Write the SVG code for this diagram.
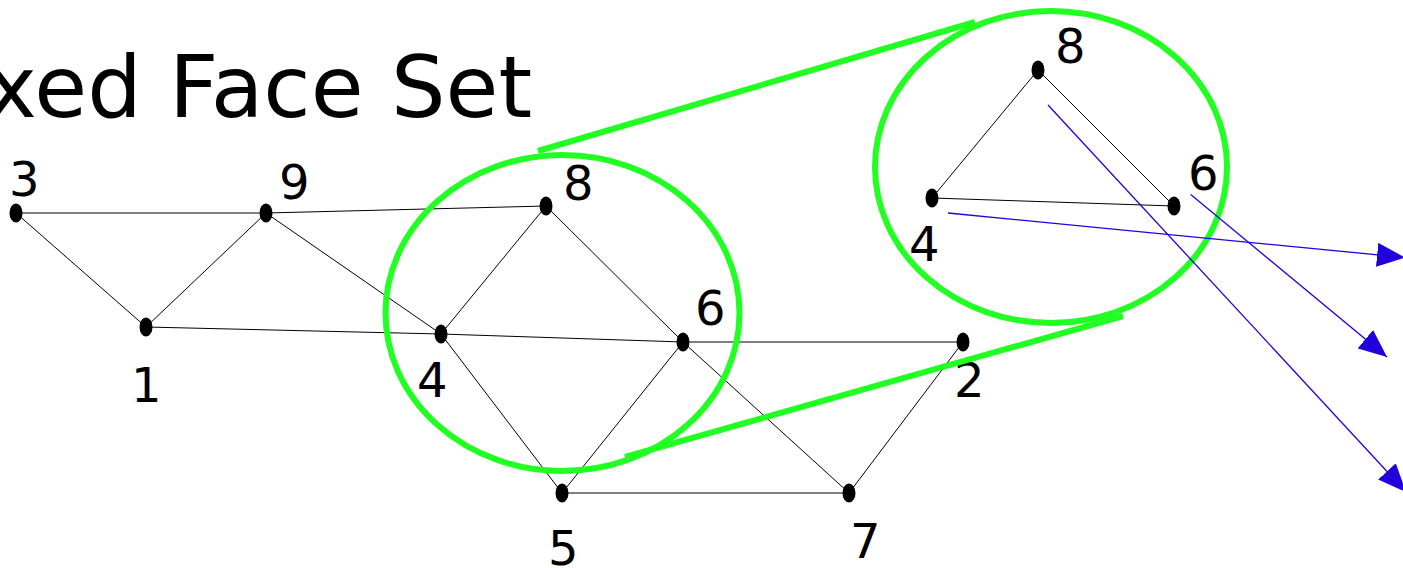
<svg xmlns="http://www.w3.org/2000/svg" width="1403" height="568" viewBox="0 0 1403 568">
<style>
.edge{stroke:#000;stroke-width:1;fill:none}
.dot{fill:#000}
.lbl{font-family:"DejaVu Sans",sans-serif;font-size:48px;fill:#000}
.title{font-family:"DejaVu Sans",sans-serif;font-size:86px;fill:#000}
.green{stroke:#22ff22;stroke-width:6;fill:none}
.blue{stroke:#2200dd;stroke-width:1.3;fill:none;marker-end:url(#ah)}
</style>
<defs>
<marker id="ah" viewBox="0 0 28 24" refX="28" refY="12" markerWidth="28" markerHeight="24" markerUnits="userSpaceOnUse" orient="auto">
<path d="M0,0 L28,12 L0,24 z" fill="#2200dd"/>
</marker>
</defs>
<rect width="1403" height="568" fill="#fff"/>
<text class="title" x="-14" y="117">xed Face Set</text>
<g id="connectors">
<line class="edge" x1="16" y1="213" x2="266" y2="213"/>
<line class="edge" x1="16" y1="213" x2="146" y2="327"/>
<line class="edge" x1="146" y1="327" x2="266" y2="213"/>
<line class="edge" x1="266" y1="213" x2="441" y2="334"/>
<line class="edge" x1="266" y1="213" x2="546" y2="206"/>
<line class="edge" x1="146" y1="327" x2="441" y2="334"/>
<line class="edge" x1="546" y1="206" x2="441" y2="334"/>
<line class="edge" x1="546" y1="206" x2="683" y2="342"/>
<line class="edge" x1="441" y1="334" x2="683" y2="342"/>
<line class="edge" x1="441" y1="334" x2="562" y2="493"/>
<line class="edge" x1="683" y1="342" x2="562" y2="493"/>
<line class="edge" x1="683" y1="342" x2="963" y2="342"/>
<line class="edge" x1="683" y1="342" x2="849" y2="493"/>
<line class="edge" x1="562" y1="493" x2="849" y2="493"/>
<line class="edge" x1="963" y1="342" x2="849" y2="493"/>
<line class="edge" x1="1038" y1="70" x2="932" y2="198"/>
<line class="edge" x1="1038" y1="70" x2="1174" y2="206"/>
<line class="edge" x1="932" y1="198" x2="1174" y2="206"/>
</g>
<g id="n3"><ellipse class="dot" cx="16" cy="213" rx="6.5" ry="9.5"/><text class="lbl" x="9" y="196">3</text></g>
<g id="n9"><ellipse class="dot" cx="266" cy="213" rx="6.5" ry="9.5"/><text class="lbl" x="279" y="199">9</text></g>
<g id="n1"><ellipse class="dot" cx="146" cy="327" rx="6.5" ry="9.5"/><text class="lbl" x="131" y="402">1</text></g>
<g id="n8"><ellipse class="dot" cx="546" cy="206" rx="6.5" ry="9.5"/><text class="lbl" x="563" y="200">8</text></g>
<g id="n4"><ellipse class="dot" cx="441" cy="334" rx="6.5" ry="9.5"/><text class="lbl" x="417" y="397">4</text></g>
<g id="n6"><ellipse class="dot" cx="683" cy="342" rx="6.5" ry="9.5"/><text class="lbl" x="695" y="325">6</text></g>
<g id="n5"><ellipse class="dot" cx="562" cy="493" rx="6.5" ry="9.5"/><text class="lbl" x="548" y="565">5</text></g>
<g id="n2"><ellipse class="dot" cx="963" cy="342" rx="6.5" ry="9.5"/><text class="lbl" x="954" y="397">2</text></g>
<g id="n7"><ellipse class="dot" cx="849" cy="493" rx="6.5" ry="9.5"/><text class="lbl" x="850" y="558">7</text></g>
<g id="zoom-lens">
<ellipse class="green" cx="562.5" cy="313" rx="177" ry="158"/>
<ellipse class="green" cx="1051" cy="167" rx="176" ry="156"/>
<line class="green" x1="538" y1="151" x2="975" y2="22"/>
<line class="green" x1="625" y1="457" x2="1123" y2="316"/>
</g>
<g id="z8"><ellipse class="dot" cx="1038" cy="70" rx="6.5" ry="9.5"/><text class="lbl" x="1055" y="63">8</text></g>
<g id="z4"><ellipse class="dot" cx="932" cy="198" rx="6.5" ry="9.5"/><text class="lbl" x="909" y="261">4</text></g>
<g id="z6"><ellipse class="dot" cx="1174" cy="206" rx="6.5" ry="9.5"/><text class="lbl" x="1188" y="190">6</text></g>
<g id="arrows">
<line class="blue" x1="948" y1="213" x2="1405" y2="257.5"/>
<line class="blue" x1="1190.7" y1="194.5" x2="1387" y2="357"/>
<line class="blue" x1="1048" y1="105" x2="1406" y2="492"/>
</g>
</svg>
